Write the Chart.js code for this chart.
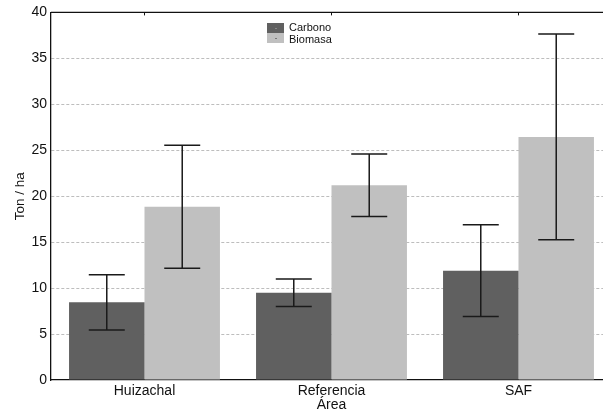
<!DOCTYPE html>
<html>
<head>
<meta charset="utf-8">
<script src="https://cdn.jsdelivr.net/npm/chart.js@4/dist/chart.umd.min.js"></script>
<style>
html,body{margin:0;padding:0;background:#fff;overflow:hidden;width:603px;height:412px;}
#wrap{position:relative;width:615px;height:412px;}
</style>
</head>
<body>
<div id="wrap"><canvas id="c" width="615" height="412"></canvas></div>
<script>
const categories = ["Huizachal", "Referencia", "SAF"];
const carbono = [8.45, 9.5, 11.9];
const carbonoErr = [3.0, 1.5, 5.0];
const biomasa = [18.85, 21.2, 26.45];
const biomasaErr = [6.7, 3.4, 11.2];
const yTicks = [0, 5, 10, 15, 20, 25, 30, 35, 40];

const FONT = "'Liberation Sans', Arial, sans-serif";

const errorBars = {
  id: 'errorBars',
  afterDatasetsDraw(chart) {
    const ctx = chart.ctx;
    const y = chart.scales.y;
    const errs = [carbonoErr, biomasaErr];
    ctx.save();
    ctx.strokeStyle = '#1a1a1a';
    ctx.lineWidth = 1.5;
    chart.data.datasets.forEach((ds, di) => {
      const meta = chart.getDatasetMeta(di);
      meta.data.forEach((bar, i) => {
        const v = ds.data[i], e = errs[di][i];
        const x = bar.x;
        const yt = y.getPixelForValue(v + e), yb = y.getPixelForValue(v - e);
        const hw = 18;
        ctx.beginPath();
        ctx.moveTo(x, yt); ctx.lineTo(x, yb);
        ctx.moveTo(x - hw, yt); ctx.lineTo(x + hw, yt);
        ctx.moveTo(x - hw, yb); ctx.lineTo(x + hw, yb);
        ctx.stroke();
      });
    });
    ctx.restore();
  }
};

const frame = {
  id: 'frame',
  afterDraw(chart) {
    const ctx = chart.ctx, a = chart.chartArea;
    ctx.save();
    ctx.strokeStyle = '#111';
    ctx.lineWidth = 1.3;
    ctx.beginPath();
    ctx.moveTo(a.left, a.top); ctx.lineTo(a.right, a.top);
    ctx.stroke();
    const x = chart.scales.x;
    ctx.lineWidth = 1;
    categories.forEach((c, i) => {
      const px = x.getPixelForValue(i);
      ctx.beginPath(); ctx.moveTo(px, a.top); ctx.lineTo(px, a.top + 3); ctx.stroke();
    });
    // legend
    const items = chart.data.datasets;
    const lx = 267, ly = [23, 33], ty = [27.5, 39.5];
    items.forEach((ds, i) => {
      ctx.fillStyle = ds.backgroundColor;
      ctx.fillRect(lx, ly[i], 17, 10);
      ctx.fillStyle = i === 0 ? '#888' : '#777';
      ctx.fillRect(lx + 8, ly[i] + 5, 2, 1);
      ctx.fillStyle = '#111';
      ctx.font = '11px ' + FONT;
      ctx.textBaseline = 'middle';
      ctx.textAlign = 'left';
      ctx.fillText(ds.label, 289, ty[i]);
    });
    ctx.restore();
  }
};

new Chart(document.getElementById('c'), {
  type: 'bar',
  data: {
    labels: categories,
    datasets: [
      { label: 'Carbono', data: carbono, backgroundColor: '#606060', borderWidth: 0 },
      { label: 'Biomasa', data: biomasa, backgroundColor: '#c0c0c0', borderWidth: 0 }
    ]
  },
  options: {
    responsive: false,
    animation: false,
    devicePixelRatio: 1,
    layout: { padding: { top: 12, right: 3, left: 0, bottom: 0 } },
    plugins: { legend: { display: false }, tooltip: { enabled: false } },
    datasets: { bar: { categoryPercentage: 0.807, barPercentage: 1.0 } },
    scales: {
      x: {
        grid: { display: false, drawTicks: false },
        border: { display: true, color: '#111', width: 1.3 },
        ticks: { color: '#111', font: { family: FONT, size: 14 }, padding: 3 },
        title: { display: true, text: 'Área', color: '#111', font: { family: FONT, size: 14, lineHeight: 1.0 }, padding: { top: 0, bottom: 0 } },
        afterFit(s) { s.height = 32; }
      },
      y: {
        min: 0, max: 40,
        afterBuildTicks(s) { s.ticks = yTicks.map(v => ({ value: v })); },
        grid: {
          drawTicks: false,
          color: ctx => (ctx.tick && (ctx.tick.value === 0 || ctx.tick.value === 40)) ? 'rgba(0,0,0,0)' : '#bdbdbd',
          lineWidth: 1,
          tickLength: 0
        },
        border: { display: true, color: '#111', width: 1.3, dash: [3, 2] },
        ticks: { color: '#111', font: { family: FONT, size: 14 }, padding: 4 },
        title: { display: true, text: 'Ton / ha', color: '#111', font: { family: FONT, size: 13.5 }, padding: { top: 12, bottom: 0 } },
        afterFit(s) { s.width = 51; }
      }
    }
  },
  plugins: [errorBars, frame]
});
</script>
</body>
</html>
